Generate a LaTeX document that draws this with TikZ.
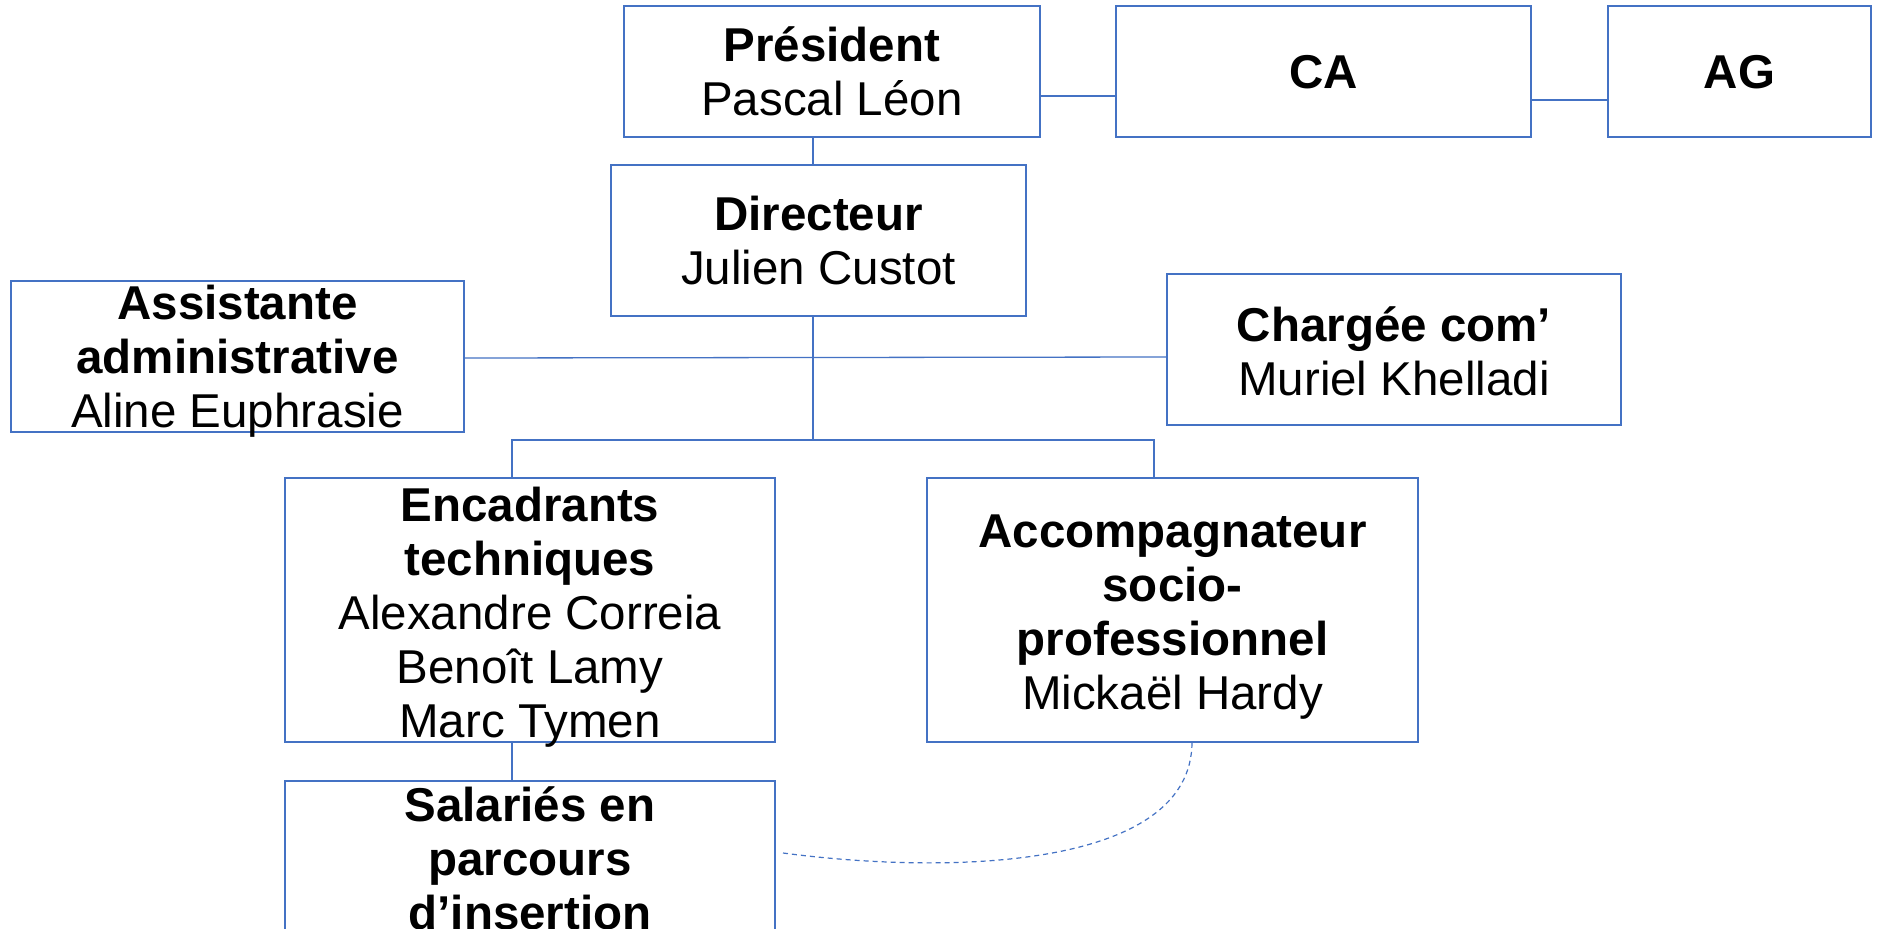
\documentclass[tikz,border=0pt]{standalone}
\usepackage{fontspec}
\setmainfont{Liberation Sans}
\definecolor{linec}{RGB}{68,114,196}
\begin{document}
\begin{tikzpicture}[x=1pt,y=-1pt,
  box/.style={draw=linec,line width=1.3pt,inner sep=0pt,outer sep=0pt},
  lab/.style={align=center,inner sep=0pt,text=black,font=\fontsize{47.5}{54}\selectfont},
  conn/.style={draw=linec,line width=1.3pt}]
\useasboundingbox (0,0) rectangle (1883,929);
\clip (0,0) rectangle (1883,929);
\fill[white] (0,0) rectangle (1883,929);

\node[box,minimum width=416,minimum height=131,
  label={[lab]center:{\textbf{Président}\\Pascal Léon}}] (pres) at (832,71.5) {};
\node[box,minimum width=415,minimum height=131,
  label={[lab,yshift=-1pt]center:{\textbf{CA}}}] (ca) at (1323.5,71.5) {};
\node[box,minimum width=263,minimum height=131,
  label={[lab,yshift=-1pt]center:{\textbf{AG}}}] (ag) at (1739.5,71.5) {};
\node[box,minimum width=415,minimum height=151,
  label={[lab]center:{\textbf{Directeur}\\Julien Custot}}] (dir) at (818.5,240.5) {};
\node[box,minimum width=453,minimum height=151,
  label={[lab,yshift=-5pt]center:{\textbf{Assistante}\\\textbf{administrative}\\Aline Euphrasie}}] (asst) at (237.5,356.5) {};
\node[box,minimum width=454,minimum height=151,
  label={[lab,yshift=-2pt]center:{\textbf{Chargée com’}\\Muriel Khelladi}}] (charg) at (1394,349.5) {};
\node[box,minimum width=490,minimum height=264,
  label={[lab,yshift=-7pt]center:{\textbf{Encadrants}\\\textbf{techniques}\\Alexandre Correia\\Benoît Lamy\\Marc Tymen}}] (enc) at (530,610) {};
\node[box,minimum width=491,minimum height=264,
  label={[lab,yshift=-7pt]center:{\textbf{Accompagnateur}\\\textbf{socio-}\\\textbf{professionnel}\\Mickaël Hardy}}] (acc) at (1172.5,610) {};
\node[box,minimum width=490,minimum height=152,
  label={[lab,yshift=-1pt]center:{\textbf{Salariés en}\\\textbf{parcours}\\\textbf{d’insertion}}}] (sal) at (530,857) {};

% connectors
\draw[conn] ([yshift=-24.5pt]pres.east) -- ([yshift=-24.5pt]pres.east -| ca.west);
\draw[conn] ([yshift=-28.5pt]ca.east) -- ([yshift=-28.5pt]ca.east -| ag.west);
\draw[conn] ([xshift=-19pt]pres.south) -- ([xshift=-19pt]pres.south |- dir.north);
\draw[conn] ([yshift=-1.5pt]asst.east) -- ([yshift=-7.5pt]charg.west);
\coordinate (bar) at (813,440);
\draw[conn] ([xshift=-5.5pt]dir.south) -- (bar);
\draw[conn] ([xshift=-18pt]enc.north) |- (bar) -| ([xshift=-18.5pt]acc.north);
\draw[conn] ([xshift=-18pt]enc.south) -- ([xshift=-18pt]enc.south |- sal.north);
\coordinate (dS) at ([xshift=8pt,yshift=4pt]sal.east);
\coordinate (dE) at ([xshift=19.5pt]acc.south);
\draw[conn,line width=1.2pt,dash pattern=on 5pt off 4pt] (dS) .. controls +(167,22) and +(0,127) .. (dE);
\end{tikzpicture}
\end{document}
